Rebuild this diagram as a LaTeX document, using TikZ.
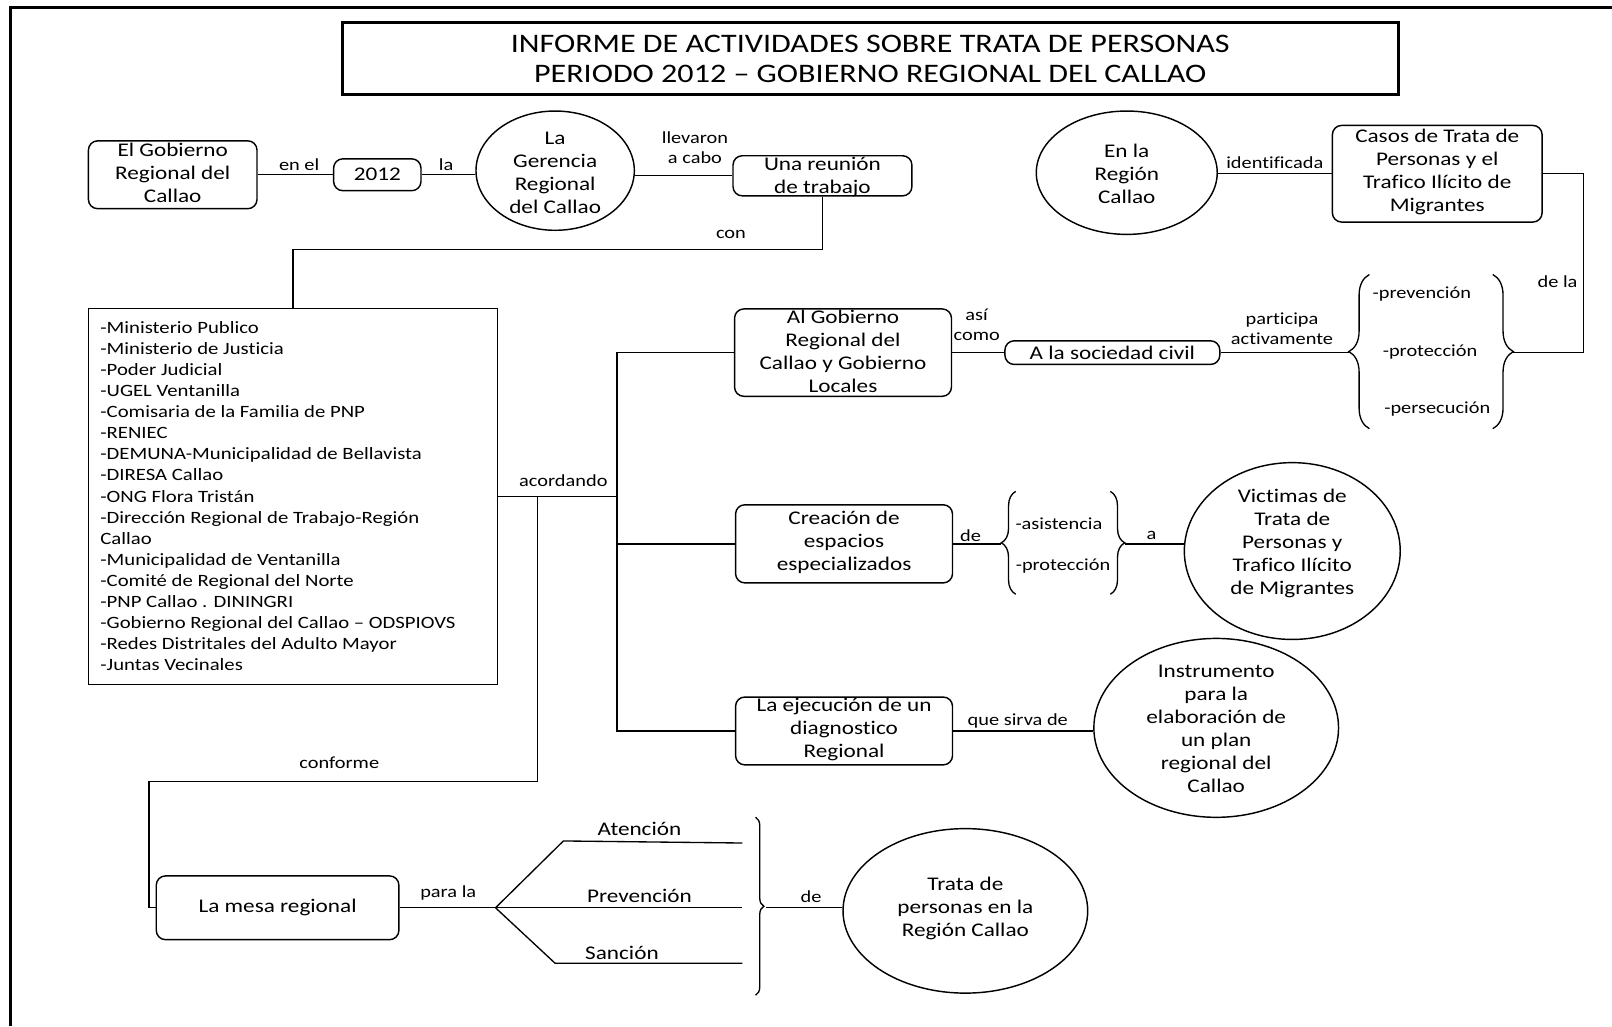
\documentclass[tikz,border=0pt]{standalone}
\usepackage{fontspec}
\setmainfont{Carlito}[FakeStretch=1.2,Ligatures=NoCommon]
\usetikzlibrary{shapes.geometric,decorations.pathreplacing}
\newcommand\fT{\fontsize{26}{29}\selectfont}
\newcommand\fN{\fontsize{18.8}{22.5}\selectfont}
\newcommand\fL{\fontsize{16.5}{19.5}\selectfont}
\newcommand\fLi{\fontsize{16.8}{20.5}\selectfont}
\begin{document}
\begin{tikzpicture}[x=1pt,y=-1pt,line width=1.3pt,
  rbox/.style={draw,rounded corners=9pt,inner sep=0pt,line width=1.4pt},
  sbox/.style={draw,rectangle,inner sep=0pt,line width=1.4pt},
  ell/.style={draw,ellipse,inner sep=0pt,line width=1.4pt},
  txt/.style={inner sep=0pt,align=center,font=\fN},
  lbl/.style={inner sep=0pt,align=center,font=\fL},
  brc/.style={decorate,decoration={brace,amplitude=#1}}]
\fill[white] (0,0) rectangle (1568,998);
\useasboundingbox (0,0) rectangle (1568,998);
% frame
\draw[line width=2.6pt] (10,998) -- (10,7) -- (1568,7);
% title
\node[sbox,line width=2.6pt,minimum width=1027pt,minimum height=70pt] (title) at (846.5,57) {};
\node[txt,font=\fT] (title-t) at (846.5,57) {INFORME DE ACTIVIDADES SOBRE TRATA DE PERSONAS\\PERIODO 2012 – GOBIERNO REGIONAL DEL CALLAO};
% top row
\node[rbox,minimum width=164pt,minimum height=66pt] (gob) at (168,170) {};
\node[txt] (gob-t) at (168,168) {El Gobierno\\Regional del\\Callao};
\node[rbox,minimum width=85pt,minimum height=31pt] (y2012) at (367,170) {};
\node[txt] (y2012-t) at (367,170) {2012};
\node[ell,minimum width=154pt,minimum height=116pt] (gerencia) at (540,166) {};
\node[txt] (gerencia-t) at (540,168) {La\\Gerencia\\Regional\\del Callao};
\node[rbox,minimum width=174pt,minimum height=39pt] (reunion) at (800,171) {};
\node[txt] (reunion-t) at (800,172) {Una reunión\\de trabajo};
\node[ell,minimum width=176pt,minimum height=120pt] (enla) at (1096,168) {};
\node[txt] (enla-t) at (1096,169) {En la\\Región\\Callao};
\node[rbox,minimum width=204pt,minimum height=94pt] (casos) at (1398,169) {};
\node[txt] (casos-t) at (1398,167.5) {Casos de Trata de\\Personas y el\\Trafico Ilícito de\\Migrantes};
% list
\node[sbox,minimum width=398pt,minimum height=366pt] (list) at (285,483) {};
\node[inner sep=0pt,align=left,font=\fLi,anchor=north west] (list-t) at (97,312) {-Ministerio Publico\\-Ministerio de Justicia\\-Poder Judicial\\-UGEL Ventanilla\\-Comisaria de la Familia de PNP\\-RENIEC\\-DEMUNA-Municipalidad de Bellavista\\-DIRESA Callao\\-ONG Flora Tristán\\-Dirección Regional de Trabajo-Región\\Callao\\-Municipalidad de Ventanilla\\-Comité de Regional del Norte\\-PNP Callao . DININGRI\\-Gobierno Regional del Callao – ODSPIOVS\\-Redes Distritales del Adulto Mayor\\-Juntas Vecinales};
% middle
\node[rbox,minimum width=211pt,minimum height=85pt] (alg) at (820,343) {};
\node[txt] (alg-t) at (820,342) {Al Gobierno\\Regional del\\Callao y Gobierno\\Locales};
\node[rbox,minimum width=209pt,minimum height=23pt] (soc) at (1082,343) {};
\node[txt] (soc-t) at (1082,343) {A la sociedad civil};
\node[lbl] (it1) at (1383,286) {-prevención};
\node[lbl] (it2) at (1391,342) {-protección};
\node[lbl] (it3) at (1398,398) {-persecución};
\node[rbox,minimum width=211pt,minimum height=76pt] (crea) at (821,529) {};
\node[txt] (crea-t) at (821,527.5) {Creación de\\espacios\\especializados};
\node[lbl] (it4) at (1030,509) {-asistencia};
\node[lbl] (it5) at (1034,551) {-protección};
\node[ell,minimum width=210pt,minimum height=172pt] (vict) at (1257,536) {};
\node[txt] (vict-t) at (1257,528.5) {Victimas de\\Trata de\\Personas y\\Trafico Ilícito\\de Migrantes};
\node[rbox,minimum width=211pt,minimum height=66pt] (ejec) at (821,711) {};
\node[txt] (ejec-t) at (821,709.5) {La ejecución de un\\diagnostico\\Regional};
\node[ell,minimum width=238pt,minimum height=174pt] (instr) at (1183,708) {};
\node[txt] (instr-t) at (1183,709) {Instrumento\\para la\\elaboración de\\un plan\\regional del\\Callao};
% bottom
\node[rbox,minimum width=236pt,minimum height=62pt] (mesa) at (270,883) {};
\node[txt] (mesa-t) at (270,883) {La mesa regional};
\node[txt] (aten) at (622,806) {Atención};
\node[txt] (prev) at (622,871) {Prevención};
\node[txt] (sanc) at (605,927) {Sanción};
\node[ell,minimum width=238pt,minimum height=160pt] (trata) at (939,886) {};
\node[txt] (trata-t) at (939,883.5) {Trata de\\personas en la\\Región Callao};
% connector labels
\node[lbl] (l-enel) at (291,160) {en el};
\node[lbl] (l-la) at (434,160) {la};
\node[lbl] (l-llev) at (676,144) {llevaron\\a cabo};
\node[lbl] (l-con) at (711,228) {con};
\node[lbl] (l-ident) at (1240,158) {identificada};
\node[lbl] (l-dela) at (1515,274) {de la};
\node[lbl] (l-asi) at (950,316) {así\\como};
\node[lbl] (l-part) at (1247,320) {participa\\activamente};
\node[lbl] (l-acor) at (548,468) {acordando};
\node[lbl] (l-de1) at (944,521) {de};
\node[lbl] (l-a) at (1120,521) {a};
\node[lbl] (l-que) at (990,701) {que sirva de};
\node[lbl] (l-conf) at (330,742) {conforme};
\node[lbl] (l-para) at (436,869) {para la};
\node[lbl] (l-de2) at (789,872) {de};
% coordinates
\coordinate (k1) at (800,243);
\coordinate (k2) at (285,243);
\coordinate (k3) at (1540,169);
\coordinate (k4) at (1540,343);
\coordinate (b1r) at (1472,343);
\coordinate (b1l) at (1312,343);
\coordinate (s1) at (600,343);
\coordinate (s2) at (600,483);
\coordinate (s3) at (600,529);
\coordinate (s4) at (600,711);
\coordinate (c0) at (523,483);
\coordinate (c1) at (523,760);
\coordinate (c2) at (145,760);
\coordinate (c3) at (145,883);
\coordinate (b2l) at (974,529);
\coordinate (b2r) at (1094,529);
\coordinate (f0) at (482,883);
\coordinate (f1) at (548,818);
\coordinate (f2) at (722,820);
\coordinate (f3) at (722,883);
\coordinate (f4) at (540,937);
\coordinate (f5) at (722,937);
\coordinate (b3) at (745,883);
% connectors
\draw (gob.east) -- (y2012.west);
\draw (y2012.east) -- (gerencia.west |- y2012.east);
\draw (gerencia.east |- reunion.west) -- (reunion.west);
\draw (reunion.south) -- (k1) -- (k2) -- (list.north);
\draw (enla.east |- casos.west) -- (casos.west);
\draw (casos.east) -- (k3) -- (k4) -- (b1r);
\draw (alg.east) -- (soc.west);
\draw (soc.east) -- (b1l);
\draw (alg.west) -- (s1) -- (s4) -- (ejec.west);
\draw (s3) -- (crea.west);
\draw (list.east) -- (s2);
\draw (c0) -- (c1) -- (c2) -- (c3) -- (mesa.west);
\draw (crea.east) -- (b2l);
\draw (b2r) -- (vict.west |- b2r);
\draw (ejec.east) -- (instr.west |- ejec.east);
\draw (mesa.east) -- (f0);
\draw (f2) -- (f1) -- (f0) -- (f4) -- (f5);
\draw (f0) -- (f3);
\draw (b3) -- (trata.west |- b3);
% braces
\draw[brc=20pt] (1332,417) -- (1332,267);
\draw[brc=20pt] (1452,267) -- (1452,417);
\draw[brc=14pt] (988,578) -- (988,478);
\draw[brc=14pt] (1080,478) -- (1080,578);
\draw[brc=8pt] (735,795) -- (735,968);
\end{tikzpicture}
\end{document}
